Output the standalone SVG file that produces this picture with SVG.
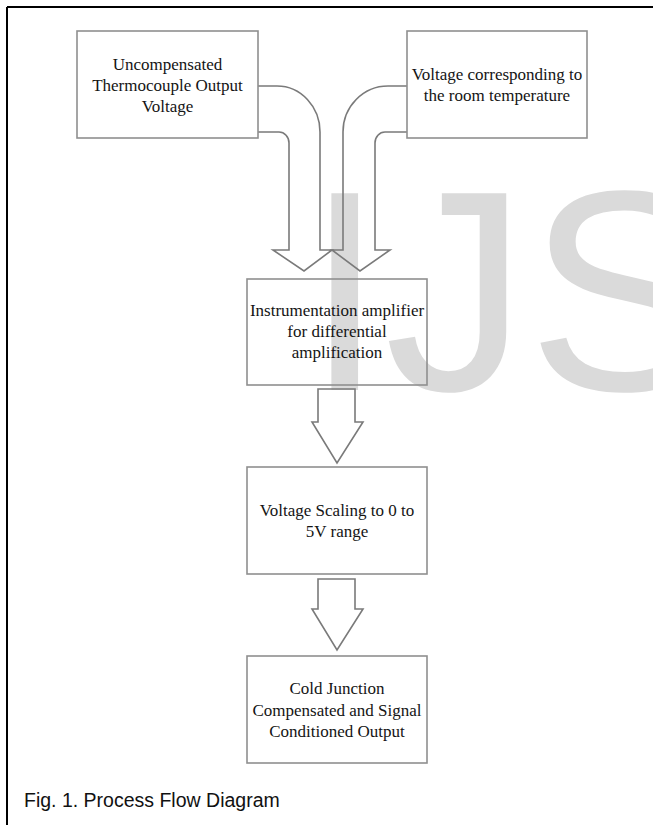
<svg xmlns="http://www.w3.org/2000/svg" width="653" height="825" viewBox="0 0 653 825">
<style>
.box{fill:none;stroke:#8f8f8f;stroke-width:1.6}
.lbl{font-family:"Liberation Serif","Times New Roman",serif;font-size:17px;fill:#141414;text-anchor:middle}
.arr{fill:none;stroke:#7a7a7a;stroke-width:1.6;stroke-linejoin:miter}
.wm{font-family:"Liberation Sans",Arial,sans-serif;font-size:286px;fill:#dadada}
.cap{font-family:"Liberation Sans",Arial,sans-serif;font-size:19.5px;fill:#111}
</style>
<rect x="0" y="0" width="653" height="825" fill="#fff"/>
<text class="wm" x="305" y="390">IJS</text>
<g id="frame">
<line x1="7" y1="7" x2="653" y2="7" stroke="#000" stroke-width="2"/>
<line x1="7" y1="7" x2="7" y2="825" stroke="#000" stroke-width="2"/>
</g>
<g id="connectors">
<path class="arr" d="M258,86 H277 A43,46 0 0 1 320,132 V250 H332 L304,271 L273,250 H289 V143 A10,11 0 0 0 279,132 H258"/>
<path class="arr" d="M407,86 H388 A45,46 0 0 0 343,132 V250 H332 L360,271 L390,250 H375 V143 A10,11 0 0 1 385,132 H407"/>
<path class="arr" d="M318,389 H355 V422 H363 L337,463 L312,422 H318 Z"/>
<path class="arr" d="M318,579 H355 V609 H363 L337,650 L312,609 H318 Z"/>
</g>
<g id="n1">
<rect class="box" x="77" y="31" width="181" height="107"/>
<text class="lbl" x="167.5" y="70">Uncompensated</text>
<text class="lbl" x="167.5" y="91">Thermocouple Output</text>
<text class="lbl" x="167.5" y="112">Voltage</text>
</g>
<g id="n2">
<rect class="box" x="407" y="31" width="180" height="107"/>
<text class="lbl" x="497" y="80">Voltage corresponding to</text>
<text class="lbl" x="497" y="101">the room temperature</text>
</g>
<g id="n3">
<rect class="box" x="247" y="279" width="180" height="106"/>
<text class="lbl" x="337" y="316">Instrumentation amplifier</text>
<text class="lbl" x="337" y="337">for differential</text>
<text class="lbl" x="337" y="358">amplification</text>
</g>
<g id="n4">
<rect class="box" x="247" y="467" width="180" height="107"/>
<text class="lbl" x="337" y="516">Voltage Scaling to 0 to</text>
<text class="lbl" x="337" y="537">5V range</text>
</g>
<g id="n5">
<rect class="box" x="247" y="656" width="180" height="107"/>
<text class="lbl" x="337" y="694">Cold Junction</text>
<text class="lbl" x="337" y="716">Compensated and Signal</text>
<text class="lbl" x="337" y="737">Conditioned Output</text>
</g>
<text class="cap" x="24" y="807">Fig. 1. Process Flow Diagram</text>
</svg>
